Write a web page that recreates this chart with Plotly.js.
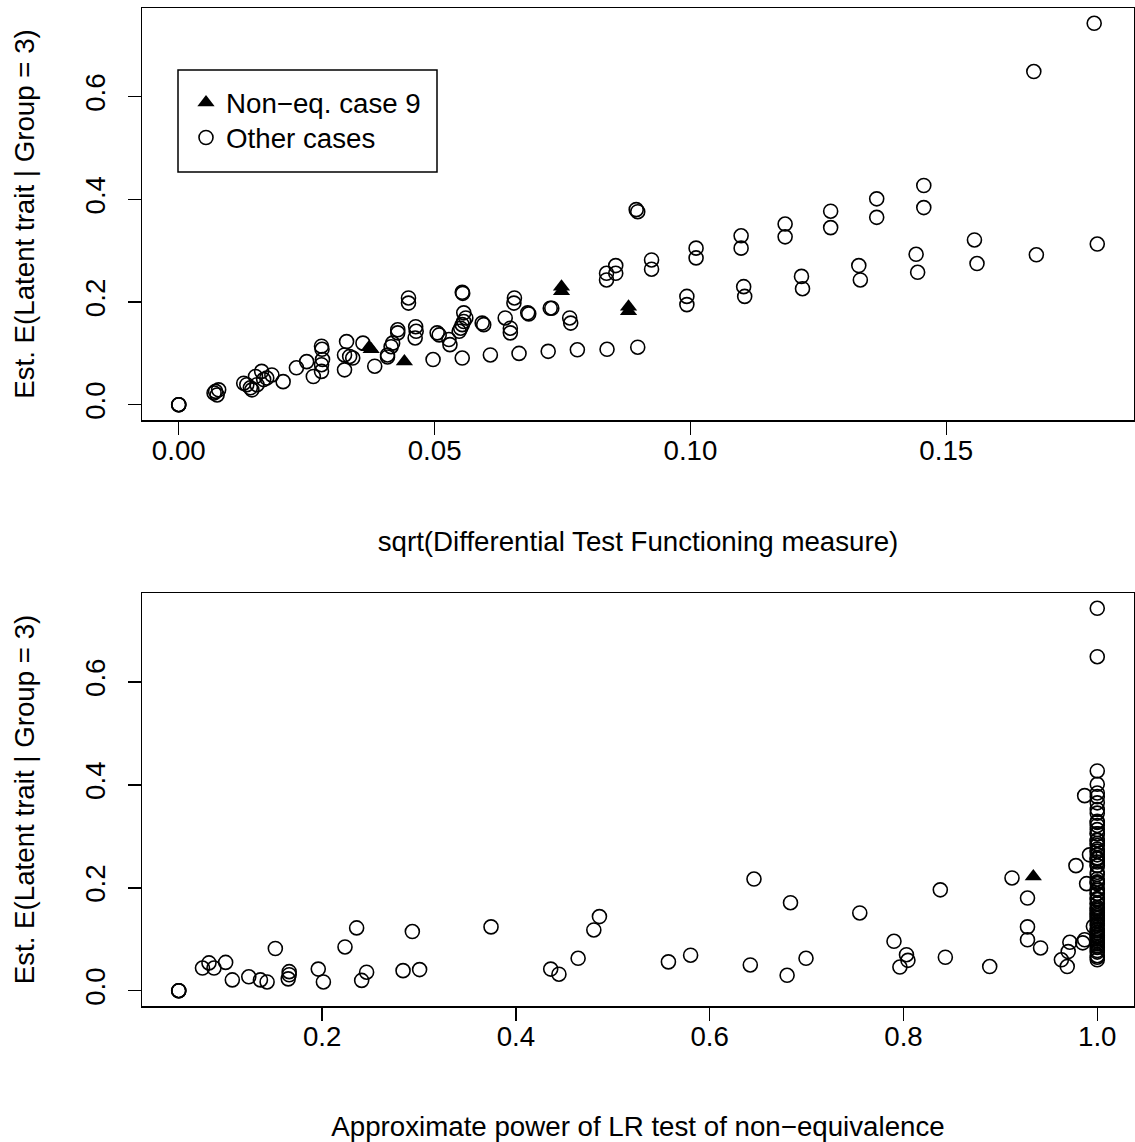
<!DOCTYPE html>
<html>
<head>
<meta charset="utf-8">
<script src="https://cdn.plot.ly/plotly-3.0.1.min.js"></script>
<style>html,body{margin:0;padding:0;background:#fff;}#chart{width:1135px;height:1142px;}</style>
</head>
<body>
<div id="chart"></div>
<script>
// ---- Top panel: sqrt(DTF) vs estimated E(latent trait | group = 3)
const topOtherX = [0,0,0,0.0072,0.0075,0.0069,0.0078,0.0127,0.0133,0.0140,0.0143,0.0150,0.0153,0.0162,0.0166,0.0172,0.0182,0.0204,
  0.0230,0.0250,0.0263,0.0279,0.0280,0.0281,0.0279,0.0279,0.0328,0.0324,0.0334,0.0340,0.0324,0.0360,0.0383,0.0408,0.0408,0.0418,0.0415,
  0.0428,0.0428,0.0449,0.0449,0.0463,0.0464,0.0462,0.0497,0.0505,0.0509,0.0528,0.0530,0.0554,0.0555,0.0554,0.0557,0.0561,0.0557,0.0554,
  0.0551,0.0548,0.0593,0.0596,0.0609,0.0656,0.0655,0.0638,0.0648,0.0648,0.0682,0.0684,0.0665,0.0722,0.0726,0.0729,0.0764,0.0766,0.0779,
  0.0837,0.0897,0.0836,0.0836,0.0854,0.0854,0.0894,0.0897,0.0924,0.0924,0.1011,0.1011,0.0993,0.0993,0.1099,0.1099,0.1104,0.1106,
  0.1185,0.1185,0.1274,0.1274,0.1364,0.1364,0.1456,0.1456,0.1217,0.1219,0.1329,0.1332,0.1441,0.1444,0.1555,0.1560,0.1676,0.1795,0.1671,0.1789];
const topOtherY = [0,0,0,0.026,0.019,0.023,0.029,0.042,0.039,0.033,0.029,0.055,0.039,0.065,0.049,0.052,0.058,0.045,
  0.072,0.084,0.055,0.114,0.108,0.088,0.078,0.065,0.123,0.097,0.094,0.091,0.068,0.120,0.075,0.097,0.093,0.120,0.113,
  0.146,0.140,0.208,0.198,0.152,0.143,0.130,0.088,0.140,0.136,0.127,0.117,0.219,0.217,0.091,0.179,0.169,0.162,0.156,
  0.149,0.143,0.159,0.156,0.097,0.208,0.198,0.169,0.149,0.140,0.179,0.177,0.100,0.104,0.188,0.188,0.169,0.159,0.107,
  0.108,0.112,0.256,0.243,0.271,0.256,0.380,0.376,0.282,0.264,0.305,0.286,0.211,0.195,0.329,0.305,0.230,0.211,
  0.352,0.327,0.377,0.345,0.401,0.365,0.427,0.384,0.250,0.226,0.271,0.243,0.293,0.258,0.321,0.275,0.292,0.313,0.649,0.743];
const topCase9X = [0.0372,0.0376,0.0441,0.0748,0.0748,0.0879,0.0879];
const topCase9Y = [0.112,0.108,0.084,0.230,0.221,0.191,0.182];

// ---- Bottom panel: approximate power of LR test vs estimated E(latent trait | group = 3)
const botOtherX = [0.052,0.052,0.052,0.0765,0.0832,0.0884,0.1004,0.1073,0.1243,0.1363,0.1432,0.1517,0.166,0.166,0.165,0.196,0.2013,
  0.2236,0.2356,0.2459,0.2408,0.2835,0.2931,0.3006,0.3743,0.4359,0.4444,0.4642,0.4804,0.4862,0.5574,0.5803,0.6419,0.6457,0.6799,
  0.6834,0.6994,0.7549,0.7902,0.8031,0.8046,0.7963,0.8380,0.8432,0.889,0.912,0.928,0.928,0.928,0.9415,0.9717,0.970,0.963,0.969,
  0.985,0.987,0.996,0.987,0.978,0.992,0.989];
const botOtherY = [0,0,0,0.044,0.054,0.044,0.055,0.021,0.027,0.021,0.017,0.082,0.037,0.031,0.023,0.042,0.017,
  0.085,0.122,0.036,0.020,0.039,0.115,0.041,0.124,0.042,0.032,0.063,0.118,0.144,0.056,0.069,0.050,0.217,0.030,
  0.171,0.063,0.151,0.096,0.070,0.059,0.046,0.196,0.065,0.047,0.219,0.180,0.124,0.099,0.083,0.094,0.076,0.060,0.047,
  0.093,0.099,0.125,0.379,0.243,0.264,0.208];
// cases whose approximate power is 1
const fullPowerY = [0.743,0.649,0.427,0.401,0.384,0.377,0.365,0.352,0.345,0.329,0.327,0.321,0.313,0.305,0.305,0.293,0.292,0.286,
  0.282,0.275,0.271,0.271,0.264,0.258,0.256,0.256,0.250,0.243,0.243,0.230,0.226,0.217,0.211,0.211,0.208,0.198,0.195,0.189,0.188,
  0.179,0.177,0.169,0.169,0.162,0.159,0.156,0.152,0.149,0.146,0.143,0.140,0.136,0.130,0.127,0.120,0.117,0.113,0.112,0.108,0.107,
  0.104,0.104,0.100,0.097,0.094,0.091,0.087,0.084,0.078,0.075,0.068,0.065,0.060];
const fullPowerX = fullPowerY.map(() => 1.0);
const botCase9X = [0.934];
const botCase9Y = [0.222];

const xTopTicks = [0.00, 0.05, 0.10, 0.15];
const xTopLabels = ["0.00", "0.05", "0.10", "0.15"];
const xBotTicks = [0.2, 0.4, 0.6, 0.8, 1.0];
const xBotLabels = ["0.2", "0.4", "0.6", "0.8", "1.0"];
const yTicks = [0.0, 0.2, 0.4, 0.6];
const yLabels = ["0.0", "0.2", "0.4", "0.6"];

const legendCase9 = "Non\u2212eq. case 9";
const legendOther = "Other cases";
const titleXTop = "sqrt(Differential Test Functioning measure)";
const titleXBot = "Approximate power of LR test of non\u2212equivalence";
const titleY = "Est. E(Latent trait | Group = 3)";

// ---- helpers
function range4(vals) {
  const lo = Math.min(...vals), hi = Math.max(...vals), d = (hi - lo) * 0.04;
  return [lo - d, hi + d];
}
const FONT = '"Liberation Sans", Arial, Helvetica, sans-serif';
const FS = 27.7;
const circ = {symbol: 'circle-open', size: 14, color: 'black', line: {width: 1.6, color: 'black'}};
const tri = {symbol: 'triangle-up', size: 15, color: 'black', line: {width: 0}};

const traces = [
  {x: topOtherX, y: topOtherY, type: 'scatter', mode: 'markers', marker: circ, name: legendOther, xaxis: 'x', yaxis: 'y', legend: 'legend2', hoverinfo: 'x+y'},
  {x: topCase9X, y: topCase9Y, type: 'scatter', mode: 'markers', marker: tri, name: legendCase9, xaxis: 'x', yaxis: 'y', legend: 'legend', hoverinfo: 'x+y'},
  {x: botOtherX.concat(fullPowerX), y: botOtherY.concat(fullPowerY), type: 'scatter', mode: 'markers', marker: circ, name: legendOther, xaxis: 'x2', yaxis: 'y2', showlegend: false},
  {x: botCase9X, y: botCase9Y, type: 'scatter', mode: 'markers', marker: tri, name: legendCase9, xaxis: 'x2', yaxis: 'y2', showlegend: false}
];

const axBase = {
  showline: true, mirror: true, linecolor: 'black', linewidth: 1.5,
  ticks: 'outside', ticklen: 13, tickwidth: 1.5, tickcolor: 'black',
  showgrid: false, zeroline: false, tickfont: {family: FONT, size: FS, color: 'black'},
  fixedrange: true
};
const yAll = topOtherY.concat(topCase9Y);
const yRange = range4(yAll);

const W = 1135, H = 1142, mL = 142, mR = 1, mT = 8, mB = 136;
const pw = W - mL - mR, ph = H - mT - mB;
const px = v => (v - mL) / pw;
const py = v => (H - mB - v) / ph;
const tFont = {family: FONT, size: FS, color: 'black'};

const layout = {
  width: W, height: H,
  margin: {l: mL, r: mR, t: mT, b: mB, pad: 0},
  paper_bgcolor: 'white', plot_bgcolor: 'white',
  font: {family: FONT, size: FS, color: 'black'},
  showlegend: true,
  xaxis: Object.assign({}, axBase, {domain: [0, 1], anchor: 'y', range: range4(topOtherX.concat(topCase9X)),
    tickvals: xTopTicks, ticktext: xTopLabels, ticklabelstandoff: -8,
    title: {text: titleXTop, font: tFont, standoff: 67}}),
  yaxis: Object.assign({}, axBase, {domain: [py(420), 1], anchor: 'x', range: yRange,
    tickvals: yTicks, ticktext: yLabels, tickangle: -90, ticklabelstandoff: 11,
    title: {text: titleY, font: tFont, standoff: 37}}),
  xaxis2: Object.assign({}, axBase, {domain: [0, 1], anchor: 'y2', range: range4(botOtherX.concat(fullPowerX, botCase9X)),
    tickvals: xBotTicks, ticktext: xBotLabels, ticklabelstandoff: -8,
    title: {text: titleXBot, font: tFont, standoff: 67}}),
  yaxis2: Object.assign({}, axBase, {domain: [0, py(593)], anchor: 'x2', range: yRange,
    tickvals: yTicks, ticktext: yLabels, tickangle: -90, ticklabelstandoff: 11,
    title: {text: titleY, font: tFont, standoff: 37}}),
  legend: {x: px(186), y: py(103), xanchor: 'left', yanchor: 'middle', bgcolor: 'rgba(0,0,0,0)', borderwidth: 0, font: tFont},
  legend2: {x: px(186), y: py(138), xanchor: 'left', yanchor: 'middle', bgcolor: 'rgba(0,0,0,0)', borderwidth: 0, font: tFont},
  shapes: [
    {type: 'rect', xref: 'paper', yref: 'paper', x0: px(178), x1: px(437), y0: py(172), y1: py(70),
     line: {color: 'black', width: 1.5}, fillcolor: 'rgba(0,0,0,0)', layer: 'above'}
  ]
};

Plotly.newPlot('chart', traces, layout, {displayModeBar: false, staticPlot: true});
</script>
</body>
</html>
